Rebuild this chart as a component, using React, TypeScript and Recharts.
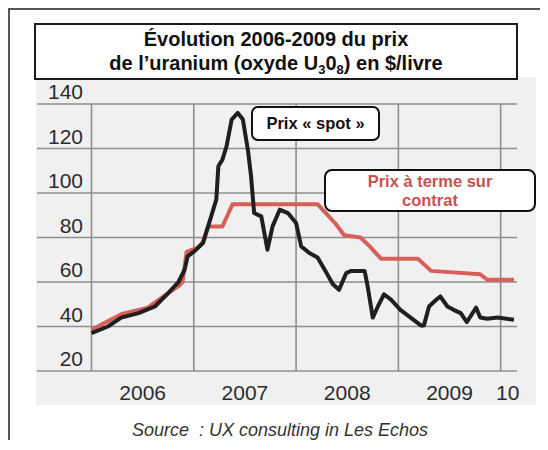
import React from 'react';
import { CartesianGrid, Line, LineChart, ReferenceLine, XAxis, YAxis } from 'recharts';

// prix spot ($/livre), dates en années décimales
const spotYears = [
  2006.0, 2006.16, 2006.29, 2006.46, 2006.62, 2006.75, 2006.85, 2006.91, 2006.94, 2007.01,
  2007.09, 2007.14, 2007.19, 2007.22, 2007.24, 2007.28, 2007.32, 2007.37, 2007.43, 2007.48,
  2007.53, 2007.56, 2007.59, 2007.66, 2007.72, 2007.77, 2007.84, 2007.92, 2008.0, 2008.05,
  2008.13, 2008.21, 2008.28, 2008.36, 2008.42, 2008.49, 2008.54, 2008.67, 2008.7, 2008.75,
  2008.8, 2008.86, 2008.93, 2009.02, 2009.12, 2009.22, 2009.25, 2009.3, 2009.37, 2009.41,
  2009.48, 2009.54, 2009.61, 2009.67, 2009.76, 2009.8, 2009.87, 2009.97, 2010.13,
];
const spotValues = [
  37, 40, 44, 46, 49, 55, 60, 65.5, 71.5, 74,
  77.5, 85, 92.5, 97, 112, 115, 121, 133, 136, 133,
  119, 107.5, 91, 89.5, 74.5, 85, 92.5, 91, 86.5, 76,
  73, 71, 65.5, 59, 56.5, 64, 65, 65, 58, 44,
  49, 54.5, 52, 47.5, 44, 40.5, 40.5, 49, 52, 53.5,
  49, 47.5, 46, 42, 48.5, 44, 43.5, 44, 43,
];

// prix à terme sur contrat
const contractYears = [
  2006.0, 2006.29, 2006.55, 2006.75, 2006.86, 2006.89, 2006.93, 2007.04, 2007.09, 2007.14,
  2007.28, 2007.33, 2007.38, 2008.21, 2008.31, 2008.39, 2008.47, 2008.63, 2008.72, 2008.83,
  2009.19, 2009.32, 2009.8, 2009.87, 2010.13,
];
const contractValues = [
  38.5, 45.5, 48.5, 55, 58.5, 60, 73.5, 75.5, 78, 85,
  85, 90, 95, 95, 90, 86, 81, 80, 76, 70.5,
  70.5, 65, 63.5, 61, 61,
];

const yTicks = [20, 40, 60, 80, 100, 120, 140];
const yearLines = [2006, 2007, 2008, 2009, 2010];
const yearLabelAt = [2006.5, 2007.5, 2008.5, 2009.5, 2010.07];
const yearLabels = ['2006', '2007', '2008', '2009', '10'];

const spot = spotYears.map((t, i) => ({ t, v: spotValues[i] }));
const contract = contractYears.map((t, i) => ({ t, v: contractValues[i] }));

const tickFont = "'Liberation Sans Narrow', 'Arial Narrow', 'Liberation Sans', Arial, sans-serif";

function YTick(props: any) {
  const { y, payload } = props;
  return (
    <text x={75} y={y - 5} textAnchor="end" fontFamily={tickFont} fontSize={21} fill="#2b2b2b">
      {payload.value}
    </text>
  );
}

function XTick(props: any) {
  const { x, payload } = props;
  const i = yearLabelAt.indexOf(payload.value);
  return (
    <text x={x} y={392} textAnchor="middle" fontFamily={tickFont} fontSize={21} fill="#2b2b2b">
      {yearLabels[i]}
    </text>
  );
}

export default function App() {
  return (
    <div
      style={{
        position: 'relative',
        width: 532,
        height: 432,
        borderLeft: '2px solid #555',
        borderTop: '2px solid #555',
        boxSizing: 'border-box',
        fontFamily: "'Liberation Sans', Arial, sans-serif",
      }}
    >
      <div style={{ position: 'absolute', left: 26, top: 67, width: 500, height: 328, background: '#f0f0f0' }} />
      <div style={{ position: 'absolute', left: -2, top: -2 }}>
        <LineChart width={540} height={442} margin={{ top: 96, right: 31, bottom: 49, left: 28 }}>
          <CartesianGrid stroke="#8f8f8f" strokeWidth={1.6} vertical={false} />
          <XAxis
            dataKey="t"
            type="number"
            domain={[2005.467, 2010.16]}
            ticks={yearLabelAt}
            allowDataOverflow
            height={30}
            tick={<XTick />}
            axisLine={false}
            tickLine={false}
            interval={0}
          />
          <YAxis
            type="number"
            domain={[20, 140]}
            ticks={yTicks}
            width={1}
            tick={<YTick />}
            axisLine={false}
            tickLine={false}
            interval={0}
          />
          {yearLines.map((yr) => (
            <ReferenceLine key={yr} x={yr} stroke="#8f8f8f" strokeWidth={1.6} />
          ))}
          <Line
            data={contract}
            dataKey="v"
            stroke="#d65f5a"
            strokeWidth={4}
            dot={false}
            strokeLinejoin="round"
            isAnimationActive={false}
          />
          <Line
            data={spot}
            dataKey="v"
            stroke="#1f1f1f"
            strokeWidth={4}
            dot={false}
            strokeLinejoin="round"
            isAnimationActive={false}
          />
        </LineChart>
      </div>

      <div
        style={{
          position: 'absolute',
          left: 24,
          top: 13,
          width: 484,
          height: 57,
          boxSizing: 'border-box',
          border: '2px solid #1a1a1a',
          background: '#fff',
          textAlign: 'center',
          fontWeight: 'bold',
          fontSize: 20,
          lineHeight: '24px',
          paddingTop: 2,
          color: '#111',
        }}
      >
        <div>Évolution 2006-2009 du prix</div>
        <div>
          de l’uranium (oxyde U
          <span style={{ fontSize: 13, verticalAlign: -4, lineHeight: 0 }}>3</span>0
          <span style={{ fontSize: 13, verticalAlign: -4, lineHeight: 0 }}>8</span>) en $/livre
        </div>
      </div>

      <div
        style={{
          position: 'absolute',
          left: 241,
          top: 96,
          width: 129,
          height: 35,
          boxSizing: 'border-box',
          border: '2px solid #111',
          borderRadius: 7,
          background: '#fff',
          display: 'flex',
          alignItems: 'center',
          justifyContent: 'center',
          fontWeight: 'bold',
          fontSize: 16.5,
          color: '#111',
        }}
      >
        Prix « spot »
      </div>

      <div
        style={{
          position: 'absolute',
          left: 314,
          top: 159,
          width: 212,
          height: 43,
          boxSizing: 'border-box',
          border: '2px solid #111',
          borderRadius: 8,
          background: '#fff',
          display: 'flex',
          alignItems: 'center',
          justifyContent: 'center',
          textAlign: 'center',
          fontWeight: 'bold',
          fontSize: 16.5,
          lineHeight: '19px',
          color: '#c8524f',
        }}
      >
        Prix à terme sur
        <br />
        contrat
      </div>

      <div
        style={{
          position: 'absolute',
          left: 20,
          top: 410,
          width: 500,
          textAlign: 'center',
          fontStyle: 'italic',
          fontSize: 18,
          lineHeight: '20px',
          color: '#333',
        }}
      >
        Source&nbsp; : UX consulting in Les Echos
      </div>
    </div>
  );
}
